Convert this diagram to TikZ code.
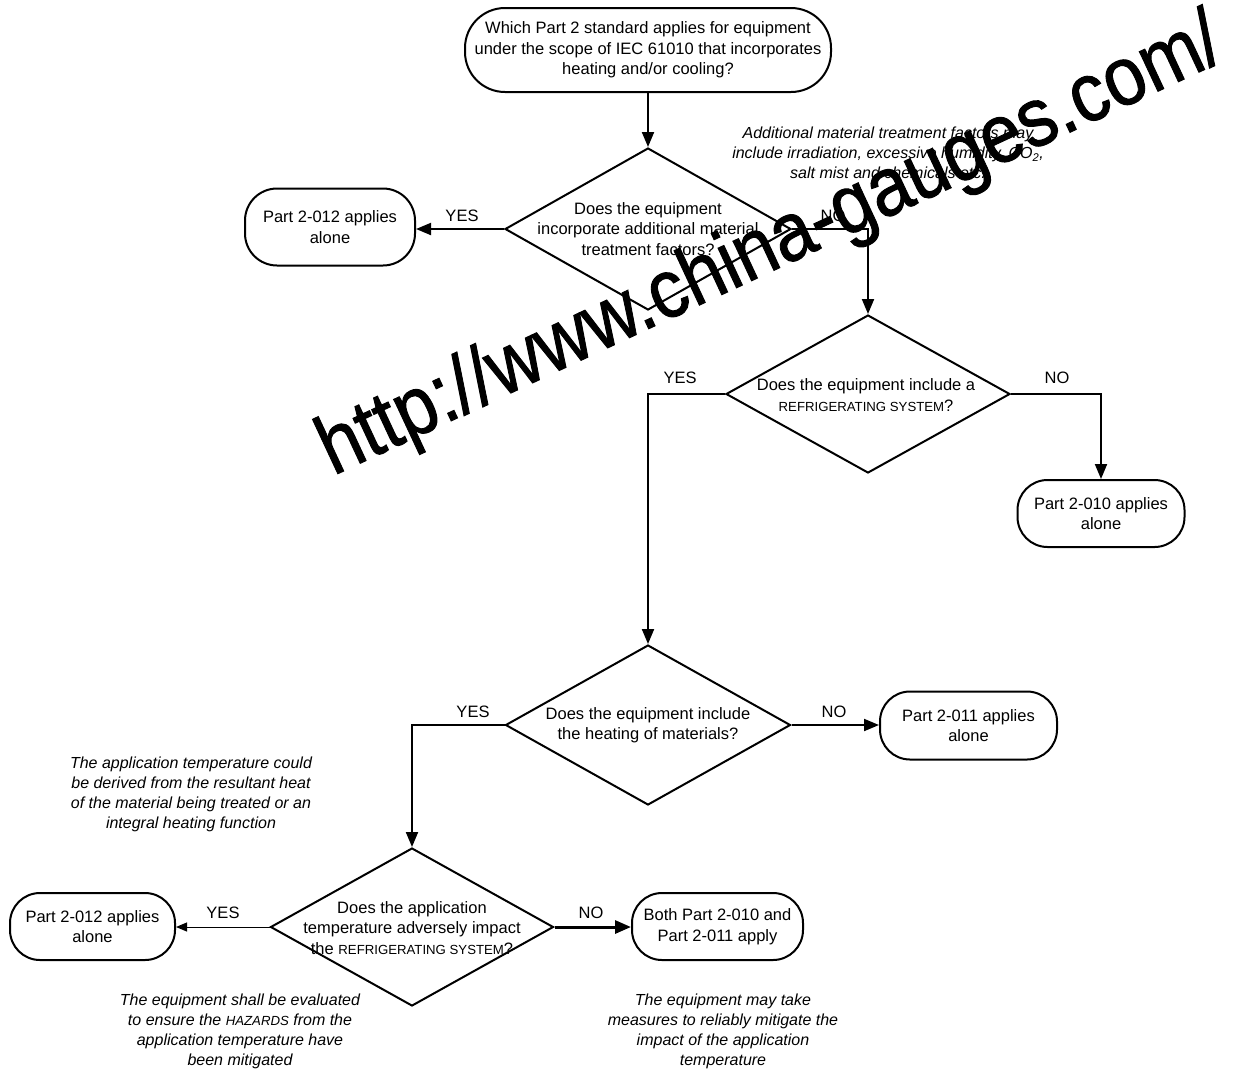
\documentclass[tikz,border=0pt]{standalone}
\usepackage{fontspec}
\setmainfont{Liberation Sans}
\newfontfamily\wmfont[FakeBold=1.2]{Liberation Sans}
\usetikzlibrary{shapes.geometric,arrows.meta}
\newcommand{\scapx}[1]{{\fontsize{13.2}{16}\selectfont #1}}
\begin{document}
\begin{tikzpicture}[x=1pt,y=-1pt,
  txt/.style={font=\fontsize{16.5}{20.5}\selectfont, align=center, inner sep=0pt},
  term/.style={txt, draw, line width=2pt, rounded corners=30pt},
  dia/.style={draw, diamond, line width=2pt, inner sep=0pt},
  note/.style={font=\itshape\fontsize{16}{20}\selectfont, align=center, inner sep=0pt},
  lbl/.style={font=\fontsize{16.5}{20}\selectfont, inner sep=0pt},
  conn/.style={line width=2pt, -{Triangle[length=15pt,width=12pt]}},
  thinconn/.style={line width=1pt, -{Triangle[length=11pt,width=9pt]}},
  thickconn/.style={line width=3pt, -{Triangle[length=16pt,width=13pt]}},
  wmark/.style={font=\wmfont\fontsize{74}{80}\selectfont, inner sep=0pt}
]
\useasboundingbox (0,0) rectangle (1234,1072);
\fill[white] (0,0) rectangle (1234,1072);

% terminals
\node[term, rounded corners=40pt, minimum width=366pt, minimum height=84pt] (top) at (648,50)
  {Which Part 2 standard applies for equipment\\under the scope of IEC 61010 that incorporates\\heating and/or cooling?};
\node[term, rounded corners=32pt, minimum width=170pt, minimum height=77pt] (A) at (330,227)
  {Part 2-012 applies\\alone};
\node[term, minimum width=167pt, minimum height=67pt] (B) at (1101,513.5)
  {Part 2-010 applies\\alone};
\node[term, minimum width=177pt, minimum height=68pt] (C) at (968.5,725.5)
  {Part 2-011 applies\\alone};
\node[term, minimum width=165pt, minimum height=67pt] (D) at (92.5,926.5)
  {Part 2-012 applies\\alone};
\node[term, minimum width=171pt, minimum height=67pt] (E) at (717.5,926.5)
  {Both Part 2-010 and\\Part 2-011 apply};

% decisions
\node[dia, minimum width=286pt, minimum height=162pt] (d1) at (648,229) {};
\node[txt] (d1t) at (648,229) {Does the equipment\\incorporate additional material\\treatment factors?};
\node[dia, minimum width=284pt, minimum height=158pt] (d2) at (868,394) {};
\node[txt] (d2t) at (866,395) {Does the equipment include a\\\scapx{REFRIGERATING SYSTEM}?};
\node[dia, minimum width=285pt, minimum height=160pt] (d3) at (648,725) {};
\node[txt] (d3t) at (648,725) {Does the equipment include\\the heating of materials?};
\node[dia, minimum width=283pt, minimum height=158pt] (d4) at (412,927) {};
\node[txt] (d4t) at (412,928) {Does the application\\temperature adversely impact\\the \scapx{REFRIGERATING SYSTEM}?};

% notes
\node[note] (n1) at (888,153) {Additional material treatment factors may\\include irradiation, excessive humidity, CO\textsubscript{2},\\salt mist and chemicals etc.};
\node[note] (n2) at (191,794) {The application temperature could\\be derived from the resultant heat\\of the material being treated or an\\integral heating function};
\node[note] (n3) at (240,1031) {The equipment shall be evaluated\\to ensure the \scapx{HAZARDS} from the\\application temperature have\\been mitigated};
\node[note] (n4) at (723,1031) {The equipment may take\\measures to reliably mitigate the\\impact of the application\\temperature};

% connectors
\draw[conn] (top.south) -- (d1.north);
\draw[conn] (d1.west) -- (d1.west -| A.east);
\draw[conn] (d1.east) -| (d2.north);
\draw[conn] (d2.west) -| (d3.north);
\draw[conn] (d2.east) -| (B.north);
\draw[conn] (d3.east) -- (d3.east -| C.west);
\draw[conn] (d3.west) -| (d4.north);
\draw[thinconn] (d4.west) -- (d4.west -| D.east);
\draw[thickconn] (d4.east) -- (d4.east -| E.west);

% labels
\node[lbl] (y1) at (462,216) {YES};
\node[lbl] (no1) at (833,216) {NO};
\node[lbl] (y2) at (680,378) {YES};
\node[lbl] (no2) at (1057,378) {NO};
\node[lbl] (y3) at (473,712) {YES};
\node[lbl] (no3) at (834,712) {NO};
\node[lbl] (y4) at (223,913) {YES};
\node[lbl] (no4) at (591,913) {NO};

% watermark
\node[wmark, anchor=base west, rotate=25, yscale=1.12] (wm) at (333,476) {http://www.china-gauges.com/};
\end{tikzpicture}
\end{document}
